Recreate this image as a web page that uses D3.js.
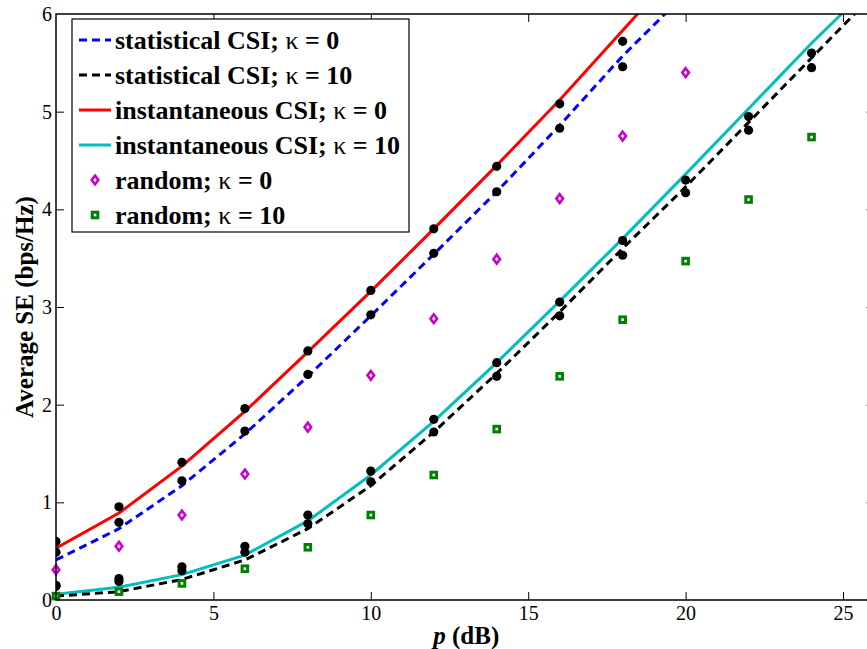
<!DOCTYPE html>
<html>
<head>
<meta charset="utf-8">
<script src="https://cdn.jsdelivr.net/npm/d3@7"></script>
<style>
  html, body { margin: 0; padding: 0; background: #fff; }
  svg { display: block; }
</style>
</head>
<body>
<svg id="chart" width="867" height="649"></svg>
<script>
// ---------------- data ----------------
const pdB = [0, 2, 4, 6, 8, 10, 12, 14, 16, 18, 20, 22, 24, 26];

// analytical curves
const statCsiK0  = [0.41, 0.73, 1.17, 1.70, 2.29, 2.91, 3.54, 4.18, 4.86, 5.57, 6.21];
const statCsiK10 = [0.04, 0.085, 0.21, 0.41, 0.73, 1.17, 1.72, 2.32, 2.95, 3.60, 4.23, 4.89, 5.55, 6.21];
const instCsiK0  = [0.53, 0.89, 1.37, 1.93, 2.54, 3.16, 3.80, 4.45, 5.12, 5.83, 6.55];
const instCsiK10 = [0.06, 0.13, 0.26, 0.46, 0.81, 1.28, 1.83, 2.43, 3.06, 3.70, 4.36, 5.03, 5.70, 6.33];

// simulation points (black dots)
const simInstK0  = [0.60, 0.955, 1.41, 1.96, 2.55, 3.17, 3.80, 4.44, 5.08, 5.72];
const simStatK0  = [0.49, 0.795, 1.22, 1.73, 2.31, 2.92, 3.55, 4.18, 4.83, 5.46];
const simInstK10 = [0.15, 0.22, 0.34, 0.55, 0.87, 1.32, 1.85, 2.43, 3.05, 3.68, 4.30, 4.95, 5.60];
const simStatK10 = [0.14, 0.19, 0.30, 0.49, 0.78, 1.21, 1.72, 2.29, 2.91, 3.53, 4.17, 4.81, 5.45];

// random beamforming markers
const randomK0  = [0.31, 0.55, 0.87, 1.29, 1.77, 2.30, 2.88, 3.49, 4.11, 4.75, 5.40];
const randomK10 = [0.04, 0.085, 0.17, 0.32, 0.54, 0.87, 1.28, 1.75, 2.29, 2.87, 3.47, 4.10, 4.74];

const xTicks = [0, 5, 10, 15, 20, 25];
const yTicks = [0, 1, 2, 3, 4, 5, 6];

const legendLabels = [
  "statistical CSI; ", "statistical CSI; ",
  "instantaneous CSI; ", "instantaneous CSI; ",
  "random; ", "random; "
];
const legendKappa = ["0", "10", "0", "10", "0", "10"];

// ---------------- layout ----------------
const svg = d3.select("#chart");
const L = 56, R = 874.5, T = 14, B = 600;
const x = d3.scaleLinear().domain([0, 26]).range([L, R]);
const y = d3.scaleLinear().domain([0, 6]).range([B, T]);
const serif = "Liberation Serif";

svg.append("defs").append("clipPath").attr("id", "clip")
  .append("rect").attr("x", L).attr("y", T).attr("width", R - L).attr("height", B - T);

const plot = svg.append("g").attr("clip-path", "url(#clip)");

const line = d3.line().x((d, i) => x(pdB[i])).y(d => y(d));

function drawLine(data, color, dashed) {
  plot.append("path").datum(data)
    .attr("d", line)
    .attr("fill", "none")
    .attr("stroke", color)
    .attr("stroke-width", 3)
    .attr("stroke-dasharray", dashed ? "8,5" : null);
}
drawLine(instCsiK0, "#ff0000", false);
drawLine(statCsiK0, "#0000ff", true);
drawLine(instCsiK10, "#00bfbf", false);
drawLine(statCsiK10, "#000000", true);

// markers
const diamond = (cx, cy) => `M${cx},${cy - 4.4}L${cx + 3.3},${cy}L${cx},${cy + 4.4}L${cx - 3.3},${cy}Z`;
function drawDiamonds(g, data) {
  g.selectAll(null).data(data).enter().append("path")
    .attr("d", (d, i) => diamond(x(pdB[i]), y(d)))
    .attr("fill", "#fff").attr("stroke", "#cc00cc").attr("stroke-width", 2.6);
}
function drawSquares(g, data) {
  g.selectAll(null).data(data).enter().append("rect")
    .attr("x", (d, i) => x(pdB[i]) - 2.8).attr("y", d => y(d) - 2.8)
    .attr("width", 5.6).attr("height", 5.6)
    .attr("fill", "#fff").attr("stroke", "#008000").attr("stroke-width", 3);
}
function drawDots(data) {
  plot.selectAll(null).data(data).enter().append("circle")
    .attr("cx", (d, i) => x(pdB[i])).attr("cy", d => y(d))
    .attr("r", 4.6).attr("fill", "#000");
}
const markG = svg.append("g");
drawDiamonds(markG, randomK0);
drawSquares(markG, randomK10);
drawDots(simInstK0);
drawDots(simStatK0);
drawDots(simInstK10);
drawDots(simStatK10);

// ---------------- axes ----------------
const axG = svg.append("g");
axG.append("rect").attr("x", L).attr("y", T).attr("width", R - L).attr("height", B - T)
  .attr("fill", "none").attr("stroke", "#000").attr("stroke-width", 1.5);

const tickLen = 8;
const fmt = d3.format("d");
const xb = axG.append("g").attr("transform", `translate(0,${B})`)
  .call(d3.axisBottom(x).tickValues(xTicks).tickFormat(fmt).tickSizeInner(-tickLen).tickSizeOuter(0).tickPadding(tickLen + 8));
const xt = axG.append("g").attr("transform", `translate(0,${T})`)
  .call(d3.axisTop(x).tickValues(xTicks).tickSizeInner(-tickLen).tickSizeOuter(0).tickFormat(""));
const yl = axG.append("g").attr("transform", `translate(${L},0)`)
  .call(d3.axisLeft(y).tickValues(yTicks).tickFormat(fmt).tickSizeInner(-tickLen).tickSizeOuter(0).tickPadding(5));
const yr = axG.append("g").attr("transform", `translate(${R},0)`)
  .call(d3.axisRight(y).tickValues(yTicks).tickSizeInner(-tickLen).tickSizeOuter(0).tickFormat(""));
[xb, xt, yl, yr].forEach(g => {
  g.select(".domain").remove();
  g.attr("font-family", serif).attr("font-size", 20);
  g.selectAll(".tick line").attr("stroke", "#000").attr("stroke-width", 1);
  g.selectAll(".tick text").attr("font-family", serif).attr("font-size", 20).attr("fill", "#000");
});
xb.selectAll(".tick text").attr("dy", "0.71em").attr("y", 6);
yl.selectAll(".tick text").attr("x", -4);
// hide the tick marks that would sit on the corners
yl.selectAll(".tick").filter(d => d === 0 || d === 6).select("line").remove();
yr.selectAll(".tick").filter(d => d === 0 || d === 6).select("line").remove();
xb.selectAll(".tick").filter(d => d === 0).select("line").remove();
xt.selectAll(".tick").filter(d => d === 0).select("line").remove();

// axis labels
const xl = svg.append("text").attr("x", (L + R) / 2 + 1).attr("y", 644)
  .attr("text-anchor", "middle").attr("font-family", serif).attr("font-size", 25).attr("font-weight", "bold");
xl.append("tspan").attr("font-style", "italic").text("p");
xl.append("tspan").text(" (dB)");

svg.append("text").attr("transform", `translate(33,${(T + B) / 2}) rotate(-90)`)
  .attr("text-anchor", "middle").attr("font-family", serif).attr("font-size", 25).attr("font-weight", "bold")
  .text("Average SE (bps/Hz)");

// ---------------- legend ----------------
const lg = svg.append("g");
lg.append("rect").attr("x", 72).attr("y", 19).attr("width", 337).attr("height", 213)
  .attr("fill", "#fff").attr("stroke", "#000").attr("stroke-width", 1.2);
const rowY = i => 40 + i * 35;
const legendStyles = [
  { c: "#0000ff", dash: true }, { c: "#000000", dash: true },
  { c: "#ff0000", dash: false }, { c: "#00bfbf", dash: false }
];
legendStyles.forEach((s, i) => {
  lg.append("line").attr("x1", 79).attr("x2", 111).attr("y1", rowY(i)).attr("y2", rowY(i))
    .attr("stroke", s.c).attr("stroke-width", 3).attr("stroke-dasharray", s.dash ? "8,5" : null);
});
lg.append("path").attr("d", diamond(95, rowY(4)))
  .attr("fill", "#fff").attr("stroke", "#cc00cc").attr("stroke-width", 2.6);
lg.append("rect").attr("x", 95 - 2.8).attr("y", rowY(5) - 2.8).attr("width", 5.6).attr("height", 5.6)
  .attr("fill", "#fff").attr("stroke", "#008000").attr("stroke-width", 3);

legendLabels.forEach((lab, i) => {
  const t = lg.append("text").attr("x", 115).attr("y", rowY(i)).attr("dy", "0.35em")
    .attr("font-family", serif).attr("font-size", 26).attr("font-weight", "bold").attr("fill", "#000");
  t.append("tspan").text(lab);
  t.append("tspan").attr("font-weight", "normal").text("κ");
  t.append("tspan").text(" = " + legendKappa[i]);
});
</script>
</body>
</html>
